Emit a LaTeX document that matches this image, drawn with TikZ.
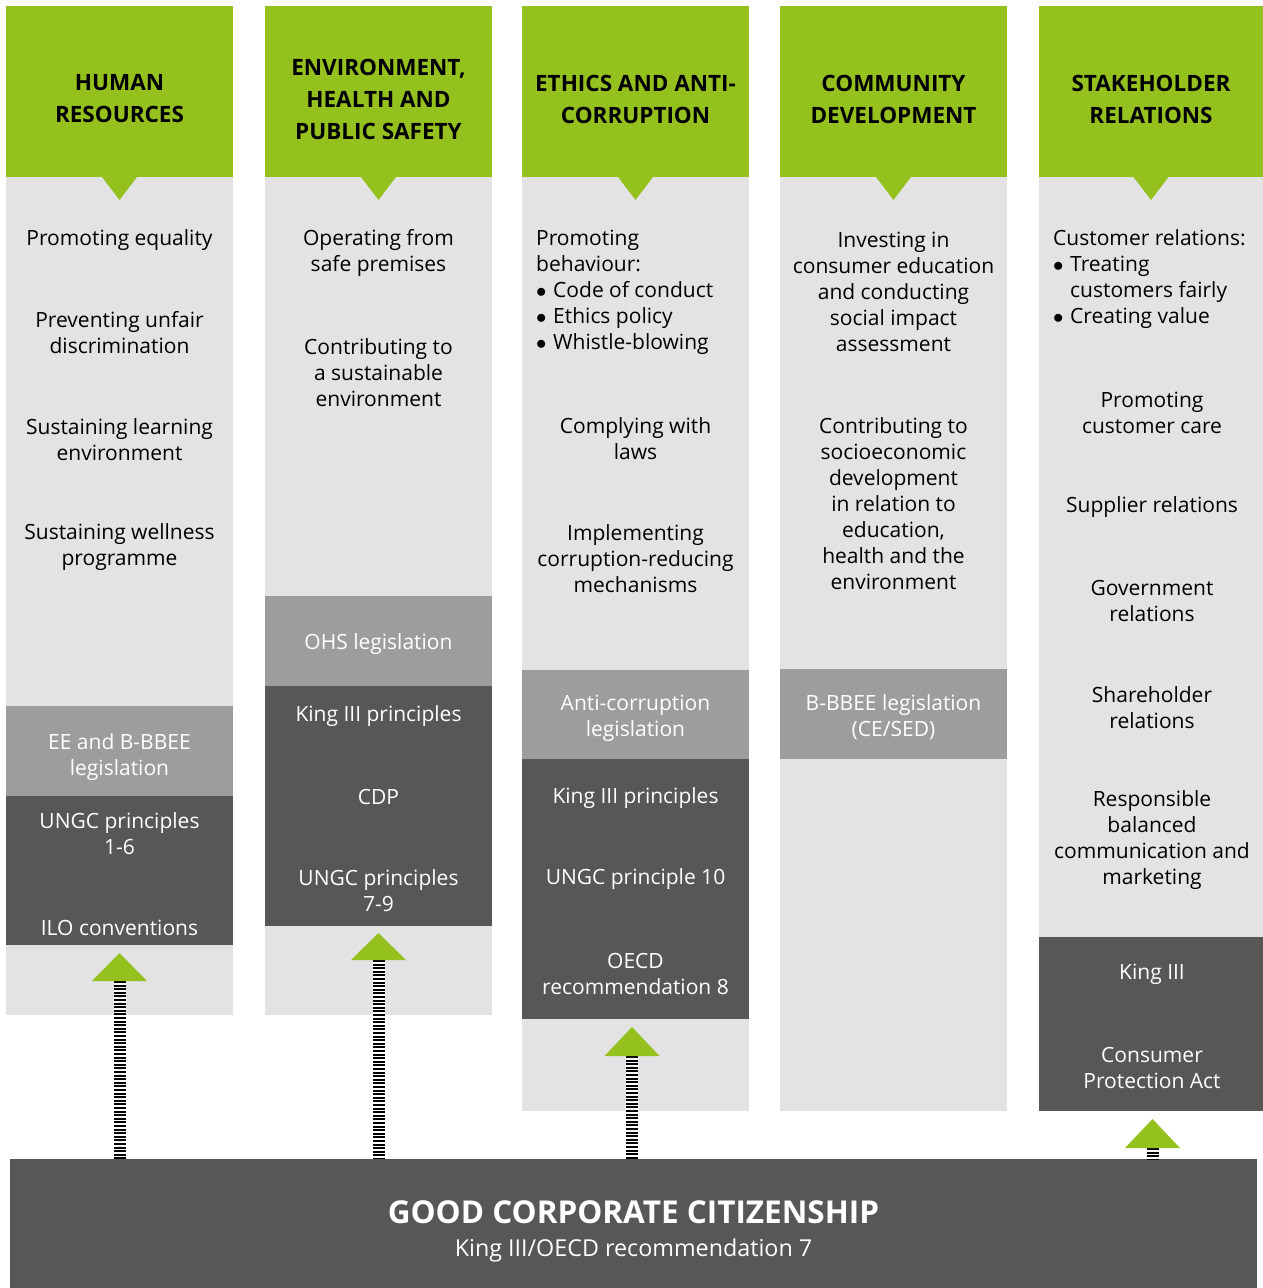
\documentclass[tikz,border=0pt]{standalone}
\usepackage{fontspec}
\setmainfont{Open Sans}
\definecolor{cgreen}{HTML}{95C11F}
\definecolor{clight}{HTML}{E3E3E3}
\definecolor{cmid}{HTML}{9D9D9C}
\definecolor{cdark}{HTML}{575756}
\newcommand{\bul}{\makebox[17pt][l]{$\bullet$}}
\begin{document}
\begin{tikzpicture}[x=1pt,y=-1pt,
  hdr/.style={font=\fontsize{22.5}{32}\selectfont\bfseries, align=center, text=black, inner sep=0},
  txt/.style={font=\fontsize{21}{26}\selectfont, align=center, text=black, inner sep=0, yshift=-2pt},
  ltxt/.style={txt, align=left},
  wtxt/.style={txt, text=white},
  stem/.style={line width=12pt, black, dash pattern=on 2pt off 1.6pt, preaction={draw=white, line width=12pt, solid}},
  uptri/.style={fill=cgreen},
]
\useasboundingbox (0,0) rectangle (1263,1288);
% columns: light background, green header
\foreach \xa/\xb/\yb in {6/233/1015, 265/492/1015, 522/749/1111, 780/1007/1111, 1039/1263/1111}{
  \fill[clight] (\xa,177) rectangle (\xb,\yb);
  \fill[cgreen] (\xa,6) rectangle (\xb,177);
  \fill[cgreen] ({(\xa+\xb)/2-17.5},177) -- ({(\xa+\xb)/2+17.5},177) -- ({(\xa+\xb)/2},200) -- cycle;
}
% mid and dark blocks
\fill[cmid] (6,706) rectangle (233,796);
\fill[cdark] (6,796) rectangle (233,945);
\fill[cmid] (265,596) rectangle (492,686);
\fill[cdark] (265,686) rectangle (492,926);
\fill[cmid] (522,670) rectangle (749,759);
\fill[cdark] (522,759) rectangle (749,1019);
\fill[cmid] (780,669) rectangle (1007,759);
\fill[cdark] (1039,937) rectangle (1263,1111);

% bottom bar
\node[fill=cdark, minimum width=1247pt, minimum height=129pt, inner sep=0, anchor=north west] (bar) at (10,1159) {};
\node[font=\fontsize{31.5}{36}\selectfont\bfseries, text=white, inner sep=0] (gcc) at (633.5,1212) {GOOD CORPORATE CITIZENSHIP};
\node[font=\fontsize{23.3}{28}\selectfont, text=white, inner sep=0] (gcc2) at (633.5,1250) {King III/OECD recommendation 7};

% arrows
\coordinate (s1) at (119.5,981);
\coordinate (s2) at (378.5,960);
\coordinate (s3) at (632,1056);
\coordinate (s5) at (1152.5,1148);
\foreach \c in {s1,s2,s3,s5}{
  \draw[stem] (\c) -- (\c |- bar.north);
}
\fill[uptri] (92,981) -- (147,981) -- (119.5,953) -- cycle;
\fill[uptri] (351,960) -- (406,960) -- (378.5,933) -- cycle;
\fill[uptri] (604.5,1056) -- (659.5,1056) -- (632,1027) -- cycle;
\fill[uptri] (1125,1148) -- (1180,1148) -- (1152.5,1119) -- cycle;

% column 1
\node[hdr] (h1) at (119.5,99) {HUMAN\\RESOURCES};
\node[txt] (t11) at (119.5,238) {Promoting equality};
\node[txt] (t12) at (119.5,331) {Preventing unfair\\discrimination};
\node[txt] (t13) at (119.5,438) {Sustaining learning\\environment};
\node[txt] (t14) at (119.5,545.5) {Sustaining wellness\\programme};
\node[wtxt] (m1) at (119.5,755.5) {EE and B-BBEE\\legislation};
\node[wtxt] (d11) at (119.5,831.5) {UNGC principles\\1-6};
\node[wtxt] (d12) at (119.5,926) {ILO conventions};

% column 2
\node[hdr] (h2) at (378.5,99) {ENVIRONMENT,\\HEALTH AND\\PUBLIC SAFETY};
\node[txt] (t21) at (378.5,251) {Operating from\\safe premises};
\node[txt] (t22) at (378.5,371) {Contributing to\\a sustainable\\environment};
\node[wtxt] (m2) at (378.5,642) {OHS legislation};
\node[wtxt] (d21) at (378.5,714) {King III principles};
\node[wtxt] (d22) at (378.5,795) {CDP};
\node[wtxt] (d23) at (378.5,888.5) {UNGC principles\\7-9};

% column 3
\node[hdr] (h3) at (635.5,99) {ETHICS AND ANTI-\\CORRUPTION};
\node[ltxt, anchor=west] (t31) at (536,290) {Promoting\\behaviour:\\\bul Code of conduct\\\bul Ethics policy\\\bul Whistle-blowing};
\node[txt] (t32) at (635.5,437) {Complying with\\laws};
\node[txt] (t33) at (635.5,556.5) {Implementing\\corruption-reducing\\mechanisms};
\node[wtxt] (m3) at (635.5,716.5) {Anti-corruption\\legislation};
\node[wtxt] (d31) at (635.5,796) {King III principles};
\node[wtxt] (d32) at (635.5,877) {UNGC principle 10};
\node[wtxt] (d33) at (635.5,971.5) {OECD\\recommendation 8};

% column 4
\node[hdr] (h4) at (893.5,99) {COMMUNITY\\DEVELOPMENT};
\node[txt] (t41) at (893.5,290) {Investing in\\consumer education\\and conducting\\social impact\\assessment};
\node[txt] (t42) at (893.5,502) {Contributing to\\socioeconomic\\development\\in relation to\\education,\\health and the\\environment};
\node[wtxt] (m4) at (893.5,715.5) {B-BBEE legislation\\(CE/SED)};

% column 5
\node[hdr] (h5) at (1151,99) {STAKEHOLDER\\RELATIONS};
\node[ltxt, anchor=west] (t51) at (1053,277.5) {Customer relations:\\\bul Treating\\\hspace*{17pt}customers fairly\\\bul Creating value};
\node[txt] (t52) at (1152,411) {Promoting\\customer care};
\node[txt] (t53) at (1152,505) {Supplier relations};
\node[txt] (t54) at (1152,599) {Government\\relations};
\node[txt] (t55) at (1152,706) {Shareholder\\relations};
\node[txt] (t56) at (1152,838.5) {Responsible\\balanced\\communication and\\marketing};
\node[wtxt] (d51) at (1152,972) {King III};
\node[wtxt] (d52) at (1152,1066) {Consumer\\Protection Act};
\end{tikzpicture}
\end{document}
